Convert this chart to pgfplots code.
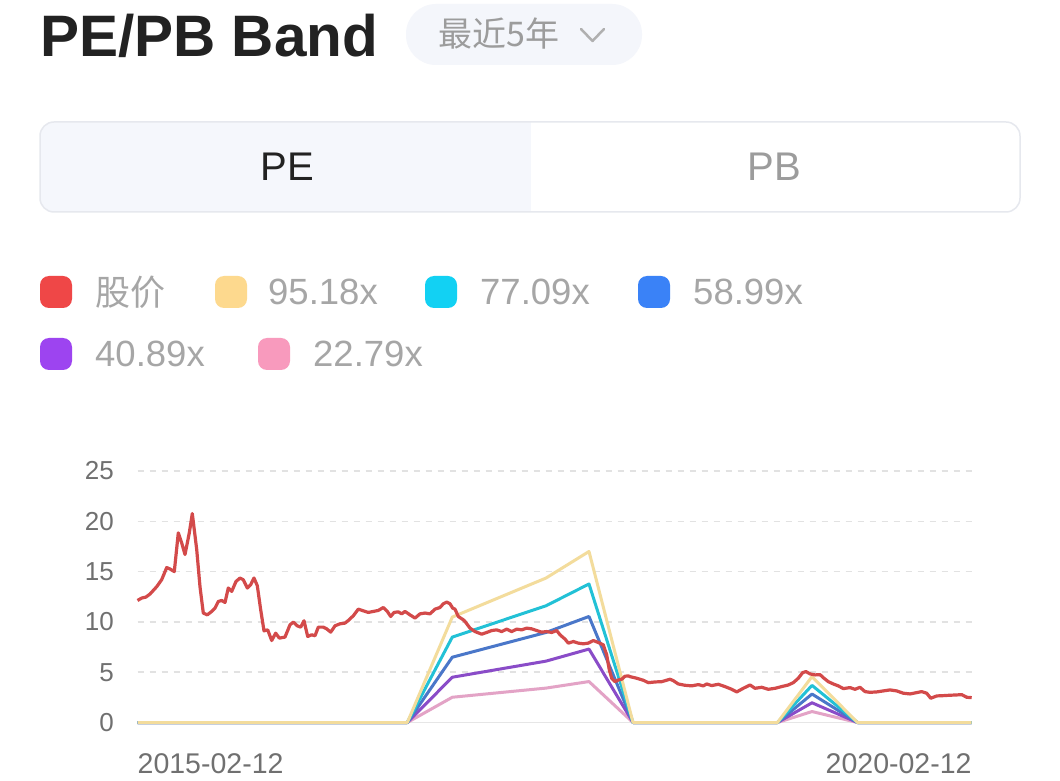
\documentclass[border=0pt]{standalone}
\usepackage{fontspec}
\setmainfont{Liberation Sans}
\newfontfamily\cjk{Noto Sans CJK SC}
\usepackage{pgfplots}
\pgfplotsset{compat=1.18}

% colours
\definecolor{titlec}{HTML}{222222}
\definecolor{pillc}{HTML}{F4F6FB}
\definecolor{mutedc}{HTML}{9C9C9C}
\definecolor{legtext}{HTML}{A6A6A6}
\definecolor{segl}{HTML}{F5F7FC}
\definecolor{segb}{HTML}{E6E8EE}
\definecolor{tickc}{HTML}{707070}
\definecolor{gridc}{HTML}{E2E2E2}
\definecolor{basec}{HTML}{E6E6E6}
% legend swatches
\definecolor{kred}{HTML}{EF4747}
\definecolor{kyel}{HTML}{FDD98E}
\definecolor{kcya}{HTML}{12D1F3}
\definecolor{kblu}{HTML}{3A82F7}
\definecolor{kpur}{HTML}{9D44F0}
\definecolor{kpin}{HTML}{F89ABD}
% plotted lines
\definecolor{lred}{HTML}{D34A4A}
\definecolor{lyel}{HTML}{F3DC9C}
\definecolor{lcya}{HTML}{22C1D6}
\definecolor{lblu}{HTML}{4A77C9}
\definecolor{lpur}{HTML}{8A4CC8}
\definecolor{lpin}{HTML}{E3A3C6}

\begin{document}
\begin{tikzpicture}
\fill[white] (0,0) rectangle (1060pt,780pt);

% title and range selector
\node[anchor=base west, inner sep=0pt, text=titlec,
      font=\fontsize{58.5}{62}\selectfont\bfseries] at (40pt,723pt) {PE/PB Band};
\fill[pillc, rounded corners=30pt] (406pt,715pt) rectangle (642pt,776pt);
\node[anchor=west, inner sep=0pt, text=mutedc,
      font=\cjk\fontsize{34}{36}\selectfont] at (438pt,746pt) {最近5年};
\draw[mutedc!80, line width=2.5pt, line cap=round, line join=round]
  (581pt,751pt) -- (592.5pt,739pt) -- (604pt,751pt);

% PE / PB switch
\begin{scope}
  \clip[rounded corners=14pt] (40pt,568pt) rectangle (1020pt,658pt);
  \fill[segl] (40pt,568pt) rectangle (531pt,658pt);
\end{scope}
\draw[segb, line width=1.5pt, rounded corners=14pt] (40pt,568pt) rectangle (1020pt,658pt);
\node[text=titlec, font=\fontsize{40}{44}\selectfont] at (287pt,613pt) {PE};
\node[text=mutedc, font=\fontsize{40}{44}\selectfont] at (774pt,613pt) {PB};

% legend
\fill[kred, rounded corners=9pt] (40pt,472pt) rectangle (72pt,504pt);
\node[anchor=west, inner sep=0pt, text=legtext, font=\cjk\fontsize{35}{38}\selectfont] at (95pt,488pt) {股价};
\fill[kyel, rounded corners=9pt] (215pt,472pt) rectangle (247pt,504pt);
\node[anchor=west, inner sep=0pt, text=legtext, font=\fontsize{36.5}{38}\selectfont] at (268pt,488pt) {95.18x};
\fill[kcya, rounded corners=9pt] (425pt,472pt) rectangle (457pt,504pt);
\node[anchor=west, inner sep=0pt, text=legtext, font=\fontsize{36.5}{38}\selectfont] at (480pt,488pt) {77.09x};
\fill[kblu, rounded corners=9pt] (638pt,472pt) rectangle (670pt,504pt);
\node[anchor=west, inner sep=0pt, text=legtext, font=\fontsize{36.5}{38}\selectfont] at (693pt,488pt) {58.99x};
\fill[kpur, rounded corners=9pt] (40pt,410pt) rectangle (72pt,442pt);
\node[anchor=west, inner sep=0pt, text=legtext, font=\fontsize{36.5}{38}\selectfont] at (95pt,426pt) {40.89x};
\fill[kpin, rounded corners=9pt] (258pt,410pt) rectangle (290pt,442pt);
\node[anchor=west, inner sep=0pt, text=legtext, font=\fontsize{36.5}{38}\selectfont] at (313pt,426pt) {22.79x};

\begin{axis}[
  at={(137.5pt,57.5pt)}, anchor=south west,
  width=834.2pt, height=251.5pt, scale only axis,
  xmin=0, xmax=834.2, ymin=0, ymax=25,
  clip=false,
  axis line style={draw=none},
  tick style={draw=none},
  xtick=\empty,
  ytick={5,10,...,25},
  extra y ticks={0},
  extra y tick style={major grid style={solid, draw=basec, line width=1.5pt}},
  ymajorgrids,
  major grid style={draw=gridc, dash pattern=on 6pt off 6pt, line width=1.5pt},
  /pgf/number format/assume math mode=true,
  yticklabel style={font=\fontsize{26}{27}\selectfont, text=tickc,
                    anchor=east, inner sep=0pt, xshift=-23.5pt},
  every axis plot/.append style={line width=3pt, line join=round},
]
% 22.79x
\addplot[lpin] coordinates {
(0,0) (269.8,0) (314.8,2.51) (408.5,3.42) (451.5,4.07) (495.5,0)
(640,0) (674.5,1.09) (720,0) (834.2,0)};
% 40.89x
\addplot[lpur] coordinates {
(0,0) (269.8,0) (314.8,4.50) (408.5,6.10) (451.5,7.30) (495.5,0)
(640,0) (674.5,1.96) (720,0) (834.2,0)};
% 58.99x
\addplot[lblu] coordinates {
(0,0) (269.8,0) (314.8,6.49) (408.5,8.95) (451.5,10.54) (495.5,0)
(640,0) (674.5,2.83) (720,0) (834.2,0)};
% 77.09x
\addplot[lcya] coordinates {
(0,0) (269.8,0) (314.8,8.49) (408.5,11.60) (451.5,13.77) (495.5,0)
(640,0) (674.5,3.69) (720,0) (834.2,0)};
% 95.18x
\addplot[lyel] coordinates {
(0,0) (269.8,0) (314.8,10.48) (408.5,14.36) (451.5,17.00) (495.5,0)
(640,0) (674.5,4.56) (720,0) (834.2,0)};
% price
\addplot[lred, line width=3.2pt] coordinates {
(0,12.13) (4.2,12.37) (8.5,12.47) (12.5,12.77) (19.2,13.5) (24.2,14.2)
(29.2,15.4) (32.5,15.26) (36.8,15.0) (40.8,18.85) (44.2,17.85) (47.5,16.7)
(51.8,18.85) (54.8,20.77) (59.2,17.2) (62.5,13.5) (65.8,10.88) (69.8,10.7)
(74.2,11.04) (77.5,11.37) (80.8,12.03) (84.2,12.13) (87.5,11.93) (90.8,13.37)
(94.2,13.03) (98.5,14.02) (102.5,14.36) (105.8,14.19) (109.8,13.37) (113.2,13.7)
(116.5,14.36) (119.8,13.6) (123.2,11.2) (126.5,9.11) (130.2,9.21) (134.2,8.15)
(138.2,8.88) (141.8,8.39) (147.5,8.49) (152.5,9.71) (155.8,9.98) (159.8,9.61)
(163.2,9.48) (166.5,10.11) (170.2,8.55) (174.2,8.72) (177.5,8.62) (180.8,9.48)
(185.8,9.48) (189.2,9.31) (193.2,8.98) (197.5,9.61) (202.5,9.81) (207.5,9.88)
(210.8,10.14) (215.8,10.61) (220.8,11.27) (225.8,11.1) (230.8,10.94) (235.8,11.04)
(240.8,11.14) (245.8,11.43) (249.8,11.04) (253.2,10.54) (256.5,10.94) (260.8,11.0)
(264.2,10.8) (267.5,11.04) (272.5,10.7) (277.5,10.38) (282.5,10.8) (287.5,10.88)
(292.5,10.8) (297.5,11.27) (302.5,11.43) (305.8,11.8) (309.2,11.97) (312.5,11.8)
(315.2,11.37) (317.5,11.27) (320.8,10.54) (325.8,10.21) (327.5,10.04) (332.5,9.38)
(337.5,9.04) (344.2,8.78) (349.2,8.95) (354.2,9.14) (359.2,9.21) (364.2,9.04)
(369.2,9.28) (374.2,9.04) (379.2,9.28) (384.2,9.21) (389.2,9.38) (394.2,9.31)
(399.2,9.14) (404.2,8.98) (409.2,9.04) (414.2,8.95) (419.2,9.14) (422.5,8.72)
(427.5,8.29) (430.8,7.89) (435.8,8.05) (440.8,7.89) (445.8,7.82) (450.8,7.89)
(455.8,8.15) (460.8,7.95) (465.8,7.72) (469.2,6.72) (471.8,5.23) (474.2,4.4)
(477.5,4.06) (480.8,4.23) (484.2,4.3) (487.5,4.6) (490.8,4.63) (492.5,4.56)
(499.2,4.4) (505.8,4.2) (510.8,3.96) (517.5,4.03) (524.2,4.06) (532.5,4.3)
(535.8,4.16) (540.8,3.83) (547.5,3.7) (554.2,3.64) (560.8,3.77) (565.8,3.64)
(569.2,3.83) (574.2,3.67) (580.8,3.8) (587.5,3.57) (594.2,3.3) (599.2,3.04)
(605.8,3.4) (612.5,3.73) (617.5,3.4) (624.2,3.5) (630.8,3.3) (637.5,3.4)
(644.2,3.57) (650.8,3.73) (655.8,3.96) (660.8,4.4) (665.2,4.96) (668.5,5.06)
(672.5,4.83) (677.5,4.73) (682.5,4.76) (686.5,4.4) (690.8,4.06) (695.8,3.83)
(700.8,3.64) (705.8,3.37) (712.5,3.47) (717.5,3.3) (722.5,3.5) (727.5,3.07)
(732.5,3.0) (739.2,3.04) (745.8,3.14) (752.5,3.24) (759.2,3.14) (765.8,2.91)
(772.5,2.84) (779.2,2.97) (784.2,3.07) (789.2,2.91) (793.2,2.41) (799.2,2.64)
(805.8,2.67) (812.5,2.71) (819.2,2.74) (824.2,2.77) (829.2,2.51) (834.2,2.47)};
\node[anchor=base west, inner sep=0pt, text=tickc, font=\fontsize{28.5}{30}\selectfont,
      yshift=-50.8pt] at (axis cs:0,0) {2015-02-12};
\node[anchor=base east, inner sep=0pt, text=tickc, font=\fontsize{28.5}{30}\selectfont,
      yshift=-50.8pt] at (axis cs:834.2,0) {2020-02-12};
\end{axis}

\pgfresetboundingbox
\useasboundingbox (0,0) rectangle (1060pt,780pt);
\end{tikzpicture}
\end{document}
